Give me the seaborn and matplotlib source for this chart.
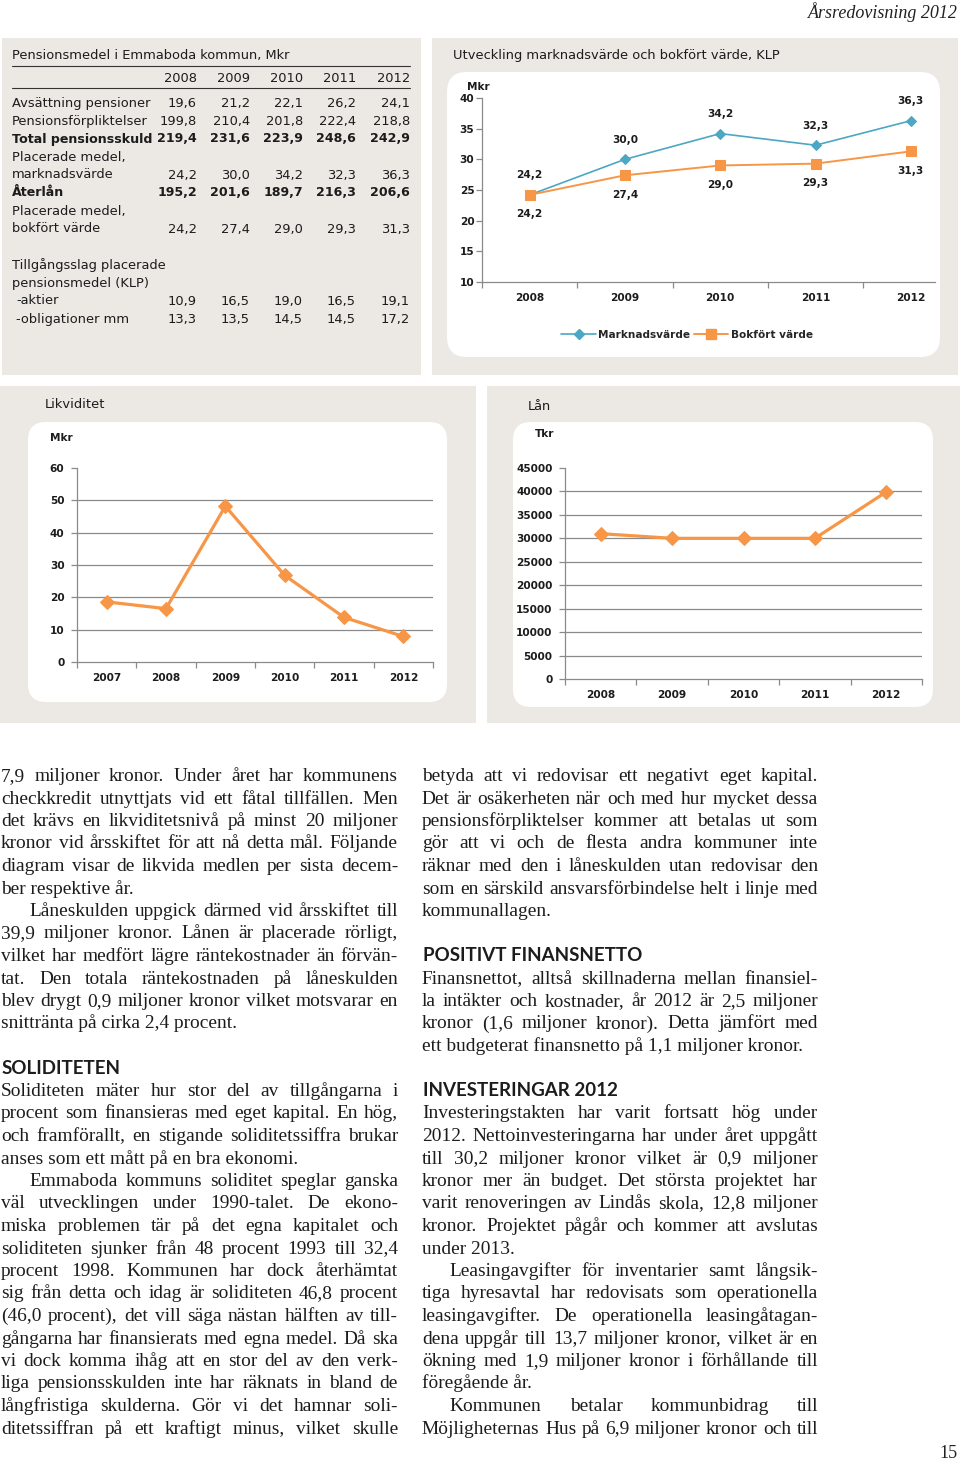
import numpy as np
import pandas as pd
import matplotlib
matplotlib.use("Agg")
import matplotlib.pyplot as plt
from matplotlib.patches import FancyBboxPatch, Rectangle
from matplotlib.lines import Line2D
import seaborn as sns

# ---------------- data ----------------
table_title = "Pensionsmedel i Emmaboda kommun, Mkr"
table_years = ["2008", "2009", "2010", "2011", "2012"]
avsattning = [19.6, 21.2, 22.1, 26.2, 24.1]
forpliktelser = [199.8, 210.4, 201.8, 222.4, 218.8]
total_skuld = [219.4, 231.6, 223.9, 248.6, 242.9]
plac_marknad = [24.2, 30.0, 34.2, 32.3, 36.3]
aterlan = [195.2, 201.6, 189.7, 216.3, 206.6]
plac_bokfort = [24.2, 27.4, 29.0, 29.3, 31.3]
aktier = [10.9, 16.5, 19.0, 16.5, 19.1]
obligationer = [13.3, 13.5, 14.5, 14.5, 17.2]

klp_title = "Utveckling marknadsvärde och bokfört värde, KLP"
klp_years = ["2008", "2009", "2010", "2011", "2012"]
marknadsvarde = [24.2, 30.0, 34.2, 32.3, 36.3]
bokfort_varde = [24.2, 27.4, 29.0, 29.3, 31.3]
klp_series = ["Marknadsvärde", "Bokfört värde"]

likv_title = "Likviditet"
likv_years = ["2007", "2008", "2009", "2010", "2011", "2012"]
likviditet = [18.6, 16.5, 48.2, 26.8, 13.8, 7.9]

lan_title = "Lån"
lan_years = ["2008", "2009", "2010", "2011", "2012"]
lan = [31000, 30000, 30000, 30000, 39900]

header_text = "Årsredovisning 2012"
page_number = "15"

body_left = [
    ("j", "7,9 miljoner kronor. Under året har kommunens"),
    ("j", "checkkredit utnyttjats vid ett fåtal tillfällen. Men"),
    ("j", "det krävs en likviditetsnivå på minst 20 miljoner"),
    ("j", "kronor vid årsskiftet för att nå detta mål. Följande"),
    ("j", "diagram visar de likvida medlen per sista decem-"),
    ("l", "ber respektive år."),
    ("ji", "Låneskulden uppgick därmed vid årsskiftet till"),
    ("j", "39,9 miljoner kronor. Lånen är placerade rörligt,"),
    ("j", "vilket har medfört lägre räntekostnader än förvän-"),
    ("j", "tat. Den totala räntekostnaden på låneskulden"),
    ("j", "blev drygt 0,9 miljoner kronor vilket motsvarar en"),
    ("l", "snittränta på cirka 2,4 procent."),
    ("b", ""),
    ("h", "SOLIDITETEN"),
    ("j", "Soliditeten mäter hur stor del av tillgångarna i"),
    ("j", "procent som finansieras med eget kapital. En hög,"),
    ("j", "och framförallt, en stigande soliditetssiffra brukar"),
    ("l", "anses som ett mått på en bra ekonomi."),
    ("ji", "Emmaboda kommuns soliditet speglar ganska"),
    ("j", "väl utvecklingen under 1990-talet. De ekono-"),
    ("j", "miska problemen tär på det egna kapitalet och"),
    ("j", "soliditeten sjunker från 48 procent 1993 till 32,4"),
    ("j", "procent 1998. Kommunen har dock återhämtat"),
    ("j", "sig från detta och idag är soliditeten 46,8 procent"),
    ("j", "(46,0 procent), det vill säga nästan hälften av till-"),
    ("j", "gångarna har finansierats med egna medel. Då ska"),
    ("j", "vi dock komma ihåg att en stor del av den verk-"),
    ("j", "liga pensionsskulden inte har räknats in bland de"),
    ("j", "långfristiga skulderna. Gör vi det hamnar soli-"),
    ("j", "ditetssiffran på ett kraftigt minus, vilket skulle"),
]
body_right = [
    ("j", "betyda att vi redovisar ett negativt eget kapital."),
    ("j", "Det är osäkerheten när och med hur mycket dessa"),
    ("j", "pensionsförpliktelser kommer att betalas ut som"),
    ("j", "gör att vi och de flesta andra kommuner inte"),
    ("j", "räknar med den i låneskulden utan redovisar den"),
    ("j", "som en särskild ansvarsförbindelse helt i linje med"),
    ("l", "kommunallagen."),
    ("b", ""),
    ("h", "POSITIVT FINANSNETTO"),
    ("j", "Finansnettot, alltså skillnaderna mellan finansiel-"),
    ("j", "la intäkter och kostnader, år 2012 är 2,5 miljoner"),
    ("j", "kronor (1,6 miljoner kronor). Detta jämfört med"),
    ("l", "ett budgeterat finansnetto på 1,1 miljoner kronor."),
    ("b", ""),
    ("h", "INVESTERINGAR 2012"),
    ("j", "Investeringstakten har varit fortsatt hög under"),
    ("j", "2012. Nettoinvesteringarna har under året uppgått"),
    ("j", "till 30,2 miljoner kronor vilket är 0,9 miljoner"),
    ("j", "kronor mer än budget. Det största projektet har"),
    ("j", "varit renoveringen av Lindås skola, 12,8 miljoner"),
    ("j", "kronor. Projektet pågår och kommer att avslutas"),
    ("l", "under 2013."),
    ("ji", "Leasingavgifter för inventarier samt långsik-"),
    ("j", "tiga hyresavtal har redovisats som operationella"),
    ("j", "leasingavgifter. De operationella leasingåtagan-"),
    ("j", "dena uppgår till 13,7 miljoner kronor, vilket är en"),
    ("j", "ökning med 1,9 miljoner kronor i förhållande till"),
    ("l", "föregående år."),
    ("ji", "Kommunen betalar kommunbidrag till"),
    ("j", "Möjligheternas Hus på 6,9 miljoner kronor och till"),
]

# ---------------- style ----------------
sns.set_theme(style="white")
plt.rcParams["font.family"] = ["DejaVu Sans"]

W, H = 960, 1467
GRAY_BG = "#ECE9E5"
TEAL = "#4BA7C4"
ORANGE = "#F79646"
AXIS_C = "#8A8A8A"
TXT = "#1c1c1c"


def fmt(v):
    return f"{v:.1f}".replace(".", ",")


def fig_rect(l, t, r, b):
    return [l / W, 1 - b / H, (r - l) / W, (b - t) / H]


fig = plt.figure(figsize=(W / 100, H / 100), dpi=100)
fig.patch.set_facecolor("white")
bg = fig.add_axes([0, 0, 1, 1], zorder=0)
bg.set_xlim(0, W)
bg.set_ylim(H, 0)
bg.axis("off")
renderer = fig.canvas.get_renderer()


def width_of(s, size, family, weight="normal"):
    t = bg.text(0, 0, s, fontsize=size, family=family, fontweight=weight)
    w = t.get_window_extent(renderer).width
    t.remove()
    return w


# gray panels
for (l, t, r, b) in [(2, 38, 421, 375), (432, 38, 958, 375),
                     (0, 386, 476, 723), (487, 386, 960, 723)]:
    bg.add_patch(Rectangle((l, t), r - l, b - t, facecolor=GRAY_BG, edgecolor="none"))
# white rounded boxes
for (l, t, r, b, rad) in [(447, 72, 940, 357, 20), (28, 422, 447, 702, 18),
                          (513, 422, 933, 707, 18)]:
    bg.add_patch(FancyBboxPatch((l, t), r - l, b - t,
                                boxstyle=f"round,pad=0,rounding_size={rad}",
                                facecolor="white", edgecolor="none"))

# ---------------- table ----------------
TFS = 9.4
bg.text(12, 59.5, table_title, fontsize=TFS, color=TXT, va="baseline")
bg.plot([12, 410], [66, 66], color="#333333", lw=0.8)
bg.plot([12, 410], [88, 88], color="#333333", lw=0.8)
col_right = [197, 250, 303, 356, 410]
for x, yr in zip(col_right, table_years):
    bg.text(x, 82.5, yr, fontsize=TFS, color=TXT, ha="right", va="baseline")

rows = [
    ("Avsättning pensioner", avsattning, False, 106.5, 12),
    ("Pensionsförpliktelser", forpliktelser, False, 124.5, 12),
    ("Total pensionsskuld", total_skuld, True, 142.5, 12),
    ("Placerade medel,", None, False, 160.5, 12),
    ("marknadsvärde", plac_marknad, False, 178.5, 12),
    ("Återlån", aterlan, True, 196.5, 12),
    ("Placerade medel,", None, False, 214.5, 12),
    ("bokfört värde", plac_bokfort, False, 232.5, 12),
    ("Tillgångsslag placerade", None, False, 268.5, 12),
    ("pensionsmedel (KLP)", None, False, 286.5, 12),
    ("-aktier", aktier, False, 304.5, 16),
    ("-obligationer mm", obligationer, False, 322.5, 16),
]
# bold rows: size chosen so the bold label fits before the first column
bold_fs = min(TFS, TFS * 140 / width_of("Total pensionsskuld", TFS, "DejaVu Sans", "bold"))
for label, vals, bold, y, lx in rows:
    w = "bold" if bold else "normal"
    fs = bold_fs if bold else TFS
    bg.text(lx, y, label, fontsize=fs, color=TXT, va="baseline", fontweight=w)
    if vals is not None:
        for x, v in zip(col_right, vals):
            bg.text(x, y, fmt(v), fontsize=fs, color=TXT, ha="right",
                    va="baseline", fontweight=w)

# ---------------- chart helpers ----------------
CFS = 7.6


def style_axis(ax, n, ylim, yticks, ypad, grid=False):
    ax.patch.set_alpha(0)
    ax.set_ylim(*ylim)
    ax.set_yticks(yticks)
    ax.set_yticklabels([str(t) for t in yticks])
    ax.set_xticks(range(n))
    ax.set_xticks(np.arange(n + 1) - 0.5, minor=True)
    for s in ("top", "right"):
        ax.spines[s].set_visible(False)
    for s in ("left", "bottom"):
        ax.spines[s].set_color(AXIS_C)
        ax.spines[s].set_linewidth(0.9)
    ax.tick_params(axis="y", which="major", left=True, length=4, width=0.9,
                   color=AXIS_C, pad=ypad, labelsize=CFS, labelcolor=TXT)
    ax.tick_params(axis="x", which="major", bottom=True, length=0, pad=8,
                   labelsize=CFS, labelcolor=TXT)
    ax.tick_params(axis="x", which="minor", bottom=True, length=4, width=0.9,
                   color=AXIS_C)
    for lab in ax.get_xticklabels() + ax.get_yticklabels():
        lab.set_fontweight("bold")
    ax.set_xlabel("")
    ax.set_ylabel("")
    if grid:
        ax.yaxis.grid(True, color=AXIS_C, linewidth=0.9)
        ax.set_axisbelow(True)
        for gl, t in zip(ax.get_ygridlines(), yticks):
            if t == yticks[0] or t == yticks[-1]:
                gl.set_visible(False)
    else:
        ax.grid(False)


# ---------------- KLP chart ----------------
bg.text(453, 59, klp_title, fontsize=9.4, color=TXT, va="baseline")
ax1 = fig.add_axes(fig_rect(482, 98, 935, 282), zorder=2)
sns.lineplot(x=klp_years, y=marknadsvarde, color=TEAL, marker="D",
             markersize=5.5, markeredgecolor=TEAL, linewidth=1.2,
             errorbar=None, sort=False, ax=ax1)
sns.lineplot(x=klp_years, y=bokfort_varde, color=ORANGE, marker="s",
             markersize=7, markeredgecolor=ORANGE, linewidth=1.4,
             errorbar=None, sort=False, ax=ax1)
style_axis(ax1, 5, (10, 40), list(range(10, 41, 5)), ypad=1.5)
ax1.set_xlim(-0.5, -0.5 + (935 - 482) / 95.3)
for i, v in enumerate(marknadsvarde):
    ax1.annotate(fmt(v), (i, v), xytext=(0, 14), textcoords="offset points",
                 ha="center", va="center", fontsize=CFS, fontweight="bold", color=TXT)
for i, v in enumerate(bokfort_varde):
    ax1.annotate(fmt(v), (i, v), xytext=(0, -14), textcoords="offset points",
                 ha="center", va="center", fontsize=CFS, fontweight="bold", color=TXT)
bg.text(467, 86.5, "Mkr", fontsize=CFS, fontweight="bold", color=TXT, va="center")
handles = [Line2D([0], [0], color=TEAL, marker="D", markersize=5, lw=1.2),
           Line2D([0], [0], color=ORANGE, marker="s", markersize=6.5, lw=1.4)]
fig.legend(handles, klp_series, loc="center", bbox_to_anchor=(687 / W, 1 - 335 / H),
           ncol=2, frameon=False, handlelength=3.3, handletextpad=0.2,
           columnspacing=0.3, prop={"size": CFS, "weight": "bold"})

# ---------------- Likviditet chart ----------------
bg.text(45, 408.5, likv_title, fontsize=9.4, color=TXT, va="baseline")
ax2 = fig.add_axes(fig_rect(77, 468, 433, 662), zorder=2)
sns.lineplot(x=likv_years, y=likviditet, color=ORANGE, marker="D",
             markersize=7, markeredgecolor=ORANGE, linewidth=2.3,
             errorbar=None, sort=False, ax=ax2)
style_axis(ax2, 6, (0, 60), list(range(0, 61, 10)), ypad=5, grid=True)
ax2.set_xlim(-0.5, 5.5)
bg.text(50, 438, "Mkr", fontsize=CFS, fontweight="bold", color=TXT, va="center")

# ---------------- Lån chart ----------------
bg.text(528, 409.5, lan_title, fontsize=9.4, color=TXT, va="baseline")
ax3 = fig.add_axes(fig_rect(565, 468, 922, 679), zorder=2)
sns.lineplot(x=lan_years, y=lan, color=ORANGE, marker="D",
             markersize=7, markeredgecolor=ORANGE, linewidth=2.3,
             errorbar=None, sort=False, ax=ax3)
style_axis(ax3, 5, (0, 45000), list(range(0, 45001, 5000)), ypad=5, grid=True)
ax3.set_xlim(-0.5, 4.5)
bg.text(535, 434, "Tkr", fontsize=CFS, fontweight="bold", color=TXT, va="center")

# ---------------- header / footer ----------------
bg.text(958, 18, header_text, fontsize=13, family="Liberation Serif",
        style="italic", color="#222222", ha="right", va="baseline")
bg.text(958, 1458, page_number, fontsize=13, family="Liberation Serif",
        color="#222222", ha="right", va="baseline")

# ---------------- body text (justified) ----------------
SERIF = "Liberation Serif"
HEAD = "Lato"

BFS = 14.0
space_w = width_of("a a", BFS, SERIF) - width_of("aa", BFS, SERIF)
INDENT = 28
cols = [(1, 398, body_left), (422, 818, body_right)]
# pick the size so the tightest justified line keeps about a normal word space
ratio = 0.0
for x0, x1, lines in cols:
    for kind, s in lines:
        if kind.startswith("j"):
            avail = (x1 - x0) - (INDENT if kind == "ji" else 0)
            nat = sum(width_of(wd, BFS, SERIF) for wd in s.split(" ")) + \
                space_w * (len(s.split(" ")) - 1) * 1.05
            ratio = max(ratio, nat / avail)
BFS = BFS / ratio

BASE0, STEP = 781, 22.5
for x0, x1, lines in cols:
    for i, (kind, s) in enumerate(lines):
        y = BASE0 + STEP * i
        if kind == "b":
            continue
        if kind == "h":
            bg.text(x0 + 1, y, s, fontsize=13.5, family=HEAD, fontweight="bold",
                    color=TXT, va="baseline")
            continue
        if kind == "l":
            bg.text(x0, y, s, fontsize=BFS, family=SERIF, color=TXT, va="baseline")
            continue
        start = x0 + (INDENT if kind == "ji" else 0)
        words = s.split(" ")
        widths = [width_of(wd, BFS, SERIF) for wd in words]
        gap = ((x1 - start) - sum(widths)) / max(len(words) - 1, 1)
        x = start
        for wd, wdt in zip(words, widths):
            bg.text(x, y, wd, fontsize=BFS, family=SERIF, color=TXT, va="baseline")
            x += wdt + gap

fig.savefig("out.png", dpi=100, facecolor="white")
